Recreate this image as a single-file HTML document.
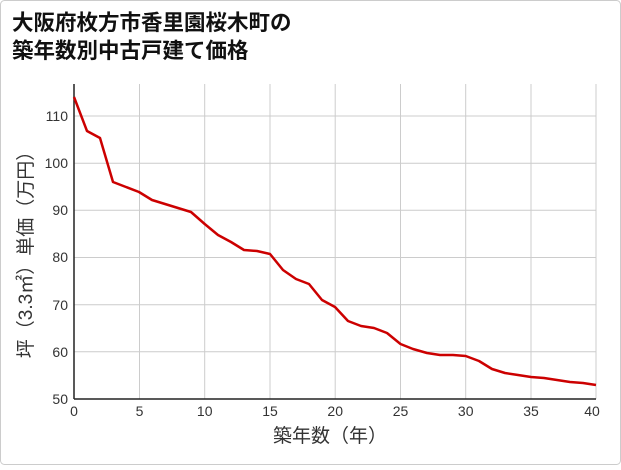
<!DOCTYPE html>
<html><head><meta charset="utf-8"><style>
html,body{margin:0;padding:0;background:#fff;}
body{width:621px;height:465px;overflow:hidden;}
</style></head><body>
<svg width="621" height="465" xmlns="http://www.w3.org/2000/svg" font-family="'Liberation Sans','Noto Sans CJK JP',sans-serif">
<rect x="0.5" y="0.5" width="620" height="464" rx="4" fill="#fff" stroke="#ccc"/>
<text x="12" y="30" font-size="21.5" font-weight="bold" fill="#111">大阪府枚方市香里園桜木町の</text>
<text x="12" y="58" font-size="21.5" font-weight="bold" fill="#111">築年数別中古戸建て価格</text>
<g stroke="#ccc" stroke-width="1">
<line x1="139.5" y1="84" x2="139.5" y2="399"/><line x1="204.7" y1="84" x2="204.7" y2="399"/>
<line x1="270" y1="84" x2="270" y2="399"/><line x1="335.2" y1="84" x2="335.2" y2="399"/>
<line x1="400.5" y1="84" x2="400.5" y2="399"/><line x1="465.7" y1="84" x2="465.7" y2="399"/>
<line x1="531" y1="84" x2="531" y2="399"/><line x1="596" y1="84" x2="596" y2="399"/>
<line x1="74" y1="116" x2="596" y2="116"/><line x1="74" y1="163.2" x2="596" y2="163.2"/>
<line x1="74" y1="210.3" x2="596" y2="210.3"/><line x1="74" y1="257.5" x2="596" y2="257.5"/>
<line x1="74" y1="304.7" x2="596" y2="304.7"/><line x1="74" y1="351.8" x2="596" y2="351.8"/>
</g>
<line x1="74" y1="84" x2="74" y2="399" stroke="#222" stroke-width="1.5"/>
<line x1="74" y1="399" x2="596" y2="399" stroke="#222" stroke-width="1.5"/>
<g font-size="14" fill="#333" text-anchor="end">
<text x="68" y="121">110</text><text x="68" y="168">100</text><text x="68" y="215">90</text>
<text x="68" y="262">80</text><text x="68" y="310">70</text><text x="68" y="357">60</text><text x="68" y="404">50</text>
</g>
<g font-size="14" fill="#333" text-anchor="middle">
<text x="74" y="416">0</text><text x="139.5" y="416">5</text><text x="204.7" y="416">10</text>
<text x="270" y="416">15</text><text x="335.2" y="416">20</text><text x="400.5" y="416">25</text>
<text x="465.7" y="416">30</text><text x="531" y="416">35</text><text x="592" y="416">40</text>
</g>
<text x="330" y="442" font-size="19" fill="#333" text-anchor="middle">築年数（年）</text>
<text transform="translate(32,250) rotate(-90)" font-size="19" fill="#333" text-anchor="middle">坪（3.3㎡）単価（万円）</text>
<polyline fill="none" stroke="#cc0000" stroke-width="2.5" stroke-linejoin="round" points="74,97 87,131 100,138 113,182 126,187 139,192 152,200 165,204 178,208 191,212 204.7,224 218,235 231,242 244,250 257,251 270,254 283,270 296,279 309,284 322,300 335,307 348,321 361,326 374,328 387,333 400.5,344 413,349 427,353 440,355 453,355 465.7,356 479,361 492,369 505,373 518,375 531,377 544,378 557,380 570,382 583,383 596,385"/>
</svg>
</body></html>
